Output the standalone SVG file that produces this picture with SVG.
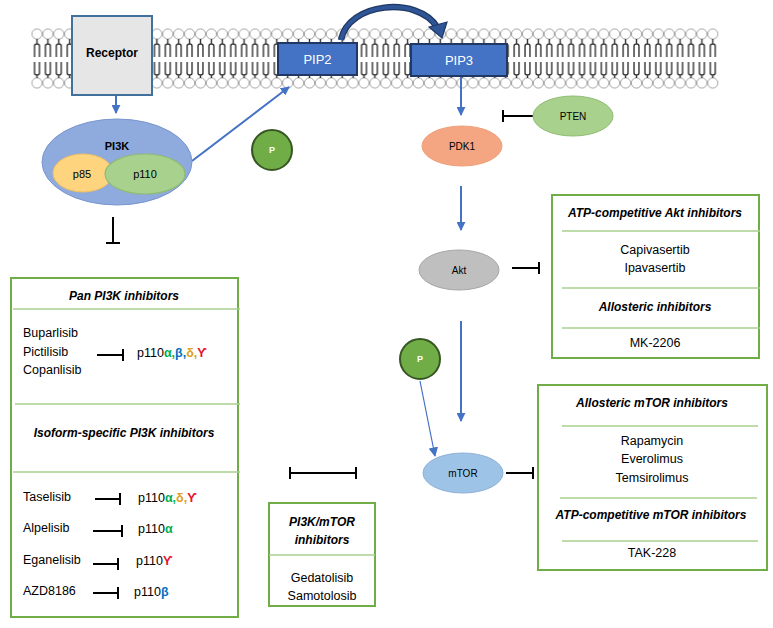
<svg xmlns="http://www.w3.org/2000/svg" width="773" height="628" viewBox="0 0 773 628">
<style>
text{font-family:"Liberation Sans",Arial,sans-serif;fill:#000}
.lbl{font-size:10px;text-anchor:middle}
.lst{font-size:12.5px}
.c{text-anchor:middle}
.hd{font-size:12px;font-weight:bold;font-style:italic;text-anchor:middle}
.box{fill:#fff;stroke:#70ad47;stroke-width:2}
.sep{stroke:#a9d18e;stroke-width:1.3}
.inh{stroke:#000;stroke-width:2;fill:none}
.act{stroke:#4472c4;stroke-width:2;fill:none;marker-end:url(#ah)}
.a{fill:#00b050;font-weight:bold}
.b{fill:#0070c0;font-weight:bold}
.d{fill:#e0a020;font-weight:bold}
.g{fill:#e8102a;font-weight:bold}
.pc{fill:#70ad47;stroke:#375623;stroke-width:2}
.pt{font-size:9px;font-weight:bold;fill:#fff;text-anchor:middle}
</style>
<defs>
<marker id="ah" viewBox="0 0 10 10" refX="9" refY="5" markerWidth="4.5" markerHeight="4.5" orient="auto" markerUnits="strokeWidth">
<path d="M0,0 L10,5 L0,10 z" fill="#4472c4"/>
</marker>
<marker id="ah2" viewBox="0 0 10 10" refX="9" refY="5" markerWidth="8" markerHeight="8" orient="auto" markerUnits="strokeWidth">
<path d="M0,0 L10,5 L0,10 z" fill="#4472c4"/>
</marker>
<pattern id="lip" patternUnits="userSpaceOnUse" x="31.55" y="28" width="10.9" height="61">
<circle cx="5.45" cy="6" r="5.1" fill="#fff" stroke="#9a9a9a" stroke-width="0.9"/>
<circle cx="5.45" cy="55" r="5.1" fill="#fff" stroke="#9a9a9a" stroke-width="0.9"/>
<path d="M5.45,11 V16 M3,29 V18 Q3,16 5.45,16 Q7.9,16 7.9,18 V29 M3,34 V45 Q3,47 5.45,47 Q7.9,47 7.9,45 V34 M5.45,47 V50" fill="none" stroke="#333" stroke-width="1.4"/>
</pattern>
</defs>
<rect width="773" height="628" fill="#fff"/>

<g id="membrane">
<rect x="31.55" y="28" width="686.7" height="61" fill="url(#lip)"/>
</g>

<g id="connectors">
<line class="act" x1="116" y1="95" x2="116" y2="113"/>
<line class="act" x1="192" y1="161" x2="289" y2="87"/>
<path d="M341,40 C348,2 418,-4 437,27" fill="none" stroke="#1f3864" stroke-width="6.5"/>
<path d="M341,40 C348,2 418,-4 437,27" fill="none" stroke="#2f5597" stroke-width="4"/>
<path d="M429,27 L447,22 L442,38 z" fill="#2f5597" stroke="#1f3864" stroke-width="1.2"/>
<line class="act" x1="461" y1="76" x2="461" y2="115"/>
<line class="act" x1="461" y1="186" x2="461" y2="230"/>
<line class="act" x1="461" y1="321" x2="461" y2="421"/>
<line x1="420" y1="381" x2="435" y2="456" stroke="#4472c4" stroke-width="1.2" marker-end="url(#ah2)"/>
<path class="inh" d="M533,116 H503 M503,110 V122"/>
<path class="inh" d="M512,268 H539 M539,262 V274"/>
<path class="inh" d="M506,473 H533 M533,467 V479"/>
<path class="inh" d="M290,473 H356 M290,467 V479 M356,467 V479"/>
<path class="inh" d="M113,217 V243 M106,243 H120"/>
</g>

<g id="receptor">
<rect x="72" y="16" width="80" height="79" fill="#e7e6e6" stroke="#41719c" stroke-width="2"/>
<text x="112" y="57" text-anchor="middle" font-size="12" font-weight="bold">Receptor</text>
</g>

<g id="pip2">
<rect x="278" y="43" width="79" height="32" fill="#4472c4" stroke="#203864" stroke-width="2"/>
<text x="317.5" y="64" text-anchor="middle" font-size="13" style="fill:#fff">PIP2</text>
</g>

<g id="pip3">
<rect x="411" y="44" width="96" height="32" fill="#4472c4" stroke="#203864" stroke-width="2"/>
<text x="459" y="65" text-anchor="middle" font-size="13" style="fill:#fff">PIP3</text>
</g>

<g id="pi3k">
<ellipse cx="117" cy="162" rx="75" ry="43" fill="#8faadc" stroke="#7a96cf" stroke-width="1"/>
<text x="117" y="150" text-anchor="middle" font-size="11" font-weight="bold">PI3K</text>
<ellipse cx="83" cy="173" rx="30" ry="19" fill="#ffd47f" stroke="#f0c060" stroke-width="1"/>
<ellipse cx="145" cy="174" rx="40" ry="20" fill="#a9d18e" stroke="#8fbc73" stroke-width="1.2"/>
<text x="82" y="178" class="lbl" style="font-size:11px">p85</text>
<text x="145" y="178" class="lbl" style="font-size:11px">p110</text>
</g>

<g id="p1">
<circle class="pc" cx="272" cy="150" r="20"/>
<text x="272" y="153" class="pt">P</text>
</g>

<g id="pdk1">
<ellipse cx="462" cy="146" rx="40" ry="20" fill="#f4a582" stroke="#eda27a" stroke-width="1"/>
<text x="462" y="150" class="lbl">PDK1</text>
</g>

<g id="pten">
<ellipse cx="573" cy="116" rx="40" ry="20" fill="#a9d18e" stroke="#8fbc73" stroke-width="1"/>
<text x="573" y="120" class="lbl">PTEN</text>
</g>

<g id="akt">
<ellipse cx="459" cy="270" rx="40" ry="20" fill="#bfbfbf" stroke="#a6a6a6" stroke-width="1"/>
<text x="459" y="274" class="lbl">Akt</text>
</g>

<g id="p2">
<circle class="pc" cx="420" cy="359" r="20"/>
<text x="420" y="362" class="pt">P</text>
</g>

<g id="mtor">
<ellipse cx="463" cy="473" rx="40" ry="20" fill="#9dc3e6" stroke="#8fb0d8" stroke-width="1"/>
<text x="463" y="477" class="lbl">mTOR</text>
</g>

<g id="pi3k-inhibitors">
<rect class="box" x="11" y="278" width="227" height="339"/>
<text x="124" y="300" class="hd">Pan PI3K inhibitors</text>
<line class="sep" x1="13" y1="309" x2="240" y2="309"/>
<text x="23" y="337" class="lst">Buparlisib</text>
<text x="23" y="356" class="lst">Pictilisib</text>
<text x="23" y="374" class="lst">Copanlisib</text>
<path class="inh" d="M97,355 H123 M123,349 V361"/>
<text x="137" y="357" class="lst">p110<tspan class="a">α,</tspan><tspan class="b">β,</tspan><tspan class="d">δ,</tspan><tspan class="g">ϒ</tspan></text>
<line class="sep" x1="15" y1="404" x2="240" y2="404"/>
<text x="124" y="437" class="hd">Isoform-specific PI3K inhibitors</text>
<line class="sep" x1="13" y1="472" x2="240" y2="472"/>
<text x="23" y="501" class="lst">Taselisib</text>
<path class="inh" d="M95,499 H120 M120,493 V505"/>
<text x="138" y="502" class="lst">p110<tspan class="a">α,</tspan><tspan class="d">δ,</tspan><tspan class="g">ϒ</tspan></text>
<text x="23" y="532" class="lst">Alpelisib</text>
<path class="inh" d="M93,531 H122 M122,525 V537"/>
<text x="138" y="533" class="lst">p110<tspan class="a">α</tspan></text>
<text x="23" y="564" class="lst">Eganelisib</text>
<path class="inh" d="M93,564 H118 M118,558 V570"/>
<text x="136" y="565" class="lst">p110<tspan class="g">ϒ</tspan></text>
<text x="23" y="595" class="lst">AZD8186</text>
<path class="inh" d="M93,593 H118 M118,587 V599"/>
<text x="134" y="596" class="lst">p110<tspan class="b">β</tspan></text>
</g>

<g id="dual-inhibitors">
<rect class="box" x="269" y="503" width="106" height="103"/>
<text x="322" y="526" class="hd">PI3K/mTOR</text>
<text x="322" y="544" class="hd">inhibitors</text>
<line class="sep" x1="269" y1="555" x2="375" y2="555"/>
<text x="322" y="582" class="lst c">Gedatolisib</text>
<text x="322" y="600" class="lst c">Samotolosib</text>
</g>

<g id="akt-inhibitors">
<rect class="box" x="552" y="195" width="207" height="163"/>
<text x="655" y="217" class="hd">ATP-competitive Akt inhibitors</text>
<line class="sep" x1="562" y1="231" x2="760" y2="231"/>
<text x="655" y="254" class="lst c">Capivasertib</text>
<text x="655" y="272" class="lst c">Ipavasertib</text>
<line class="sep" x1="562" y1="288" x2="760" y2="288"/>
<text x="655" y="311" class="hd">Allosteric inhibitors</text>
<line class="sep" x1="562" y1="328" x2="760" y2="328"/>
<text x="655" y="347" class="lst c">MK-2206</text>
</g>

<g id="mtor-inhibitors">
<rect class="box" x="538" y="385" width="229" height="185"/>
<text x="652" y="407" class="hd">Allosteric mTOR inhibitors</text>
<line class="sep" x1="562" y1="426" x2="758" y2="426"/>
<text x="652" y="445" class="lst c">Rapamycin</text>
<text x="652" y="463" class="lst c">Everolimus</text>
<text x="652" y="482" class="lst c">Temsirolimus</text>
<line class="sep" x1="560" y1="498" x2="757" y2="498"/>
<text x="651" y="519" class="hd">ATP-competitive mTOR inhibitors</text>
<line class="sep" x1="562" y1="541" x2="758" y2="541"/>
<text x="652" y="557" class="lst c">TAK-228</text>
</g>
</svg>
